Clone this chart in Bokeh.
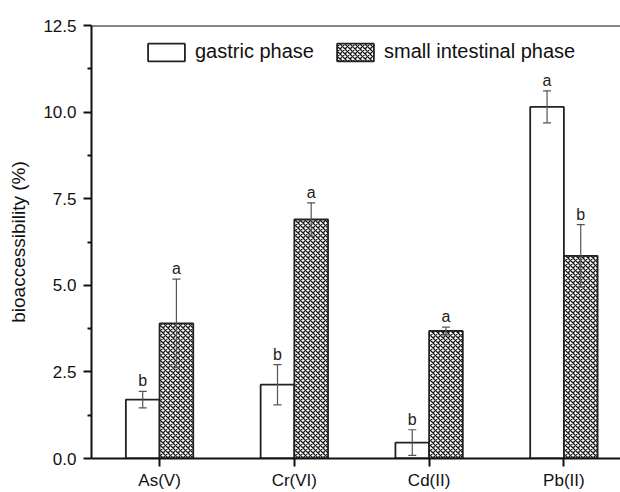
from bokeh.plotting import figure
from bokeh.models import (ColumnDataSource, Whisker, TeeHead, FixedTicker, Range1d,
                          Legend, LegendItem, Span)
from bokeh.core.properties import value
from bokeh.embed import file_html
from bokeh.resources import INLINE

metals = ["As(V)", "Cr(VI)", "Cd(II)", "Pb(II)"]
gastric = [1.70, 2.13, 0.46, 10.15]
gastric_err = [0.24, 0.58, 0.37, 0.46]
intestinal = [3.90, 6.90, 3.68, 5.85]
intestinal_err = [1.28, 0.48, 0.11, 0.90]
gastric_sig = ["b", "b", "b", "a"]
intestinal_sig = ["a", "a", "a", "b"]
y_ticks = [0.0, 2.5, 5.0, 7.5, 10.0, 12.5]

FONT = "Liberation Sans"
idx = list(range(1, len(metals) + 1))
bw = 0.25

def src(vals, errs, sig, off):
    return ColumnDataSource(dict(
        x=[i + off for i in idx], top=vals,
        upper=[v + e for v, e in zip(vals, errs)],
        lower=[v - e for v, e in zip(vals, errs)],
        sig=sig))

gs = src(gastric, gastric_err, gastric_sig, -bw / 2)
ins = src(intestinal, intestinal_err, intestinal_sig, bw / 2)

p = figure(width=620, height=492, output_backend="svg", toolbar_location=None,
           x_range=Range1d(0.495, 4.42), y_range=Range1d(y_ticks[0], y_ticks[-1]),
           min_border_left=91, min_border_right=0, min_border_top=25, min_border_bottom=33)
p.outline_line_color = None
p.xgrid.visible = False
p.ygrid.visible = False

r1 = p.vbar(x="x", top="top", bottom=0, width=bw, source=gs, fill_color="white",
            line_color="#222222", line_width=1.8)
r2 = p.vbar(x="x", top="top", bottom=0, width=bw, source=ins, fill_color="white",
            line_color="#222222", line_width=1.8, hatch_pattern="x", hatch_color="#1a1a1a",
            hatch_scale=5, hatch_weight=1.3)

for s in (gs, ins):
    w = Whisker(base="x", upper="upper", lower="lower", source=s, dimension="height",
                line_color="#555555", line_width=1.2,
                upper_head=TeeHead(size=8, line_color="#555555", line_width=1.2),
                lower_head=TeeHead(size=8, line_color="#555555", line_width=1.2),
                level="overlay")
    p.add_layout(w)
    p.text(x="x", y="upper", text="sig", source=s, text_align="center",
           text_baseline="bottom", y_offset=-2, text_font=value(FONT),
           text_font_size="16px", text_color="#222222")

p.add_layout(Span(location=y_ticks[-1], dimension="width", line_color="#111111", line_width=2))

# axes
p.xaxis.ticker = FixedTicker(ticks=idx)
p.xaxis.major_label_overrides = {i: m for i, m in zip(idx, metals)}
p.yaxis.ticker = FixedTicker(ticks=y_ticks, minor_ticks=[v + 1.25 for v in y_ticks[:-1]])
p.yaxis.major_label_overrides = {v: f"{v:.1f}" for v in y_ticks}
p.yaxis.axis_label = "bioaccessibility (%)"
for ax in (p.xaxis[0], p.yaxis[0]):
    ax.axis_line_width = 2
    ax.axis_line_color = "#111111"
    ax.major_tick_line_width = 2
    ax.minor_tick_line_width = 2
    ax.major_tick_line_color = "#111111"
    ax.minor_tick_line_color = "#111111"
    ax.major_tick_in = 0
    ax.minor_tick_in = 0
    ax.major_label_text_font = FONT
    ax.major_label_text_font_size = "17px"
    ax.major_label_text_color = "#111111"
    ax.axis_label_text_font = FONT
    ax.axis_label_text_font_size = "19px"
    ax.axis_label_text_font_style = "normal"
    ax.axis_label_text_color = "#111111"
p.xaxis.minor_tick_line_color = None
p.xaxis.major_tick_out = 8
p.xaxis.major_label_standoff = 4
p.yaxis.major_tick_out = 8
p.yaxis.minor_tick_out = 4
p.yaxis.major_label_standoff = 7
p.yaxis.axis_label_standoff = 11

legend = Legend(items=[LegendItem(label="gastric phase", renderers=[r1]),
                       LegendItem(label="small intestinal phase", renderers=[r2])],
                location=(52, 395), orientation="horizontal",
                glyph_width=46, glyph_height=22, label_standoff=6, spacing=18,
                padding=0, margin=0, border_line_color=None, background_fill_alpha=0,
                label_text_font=FONT, label_text_font_size="20px", label_text_color="#111111")
p.add_layout(legend, "center")

open("out.html", "w").write(file_html(p, INLINE))
